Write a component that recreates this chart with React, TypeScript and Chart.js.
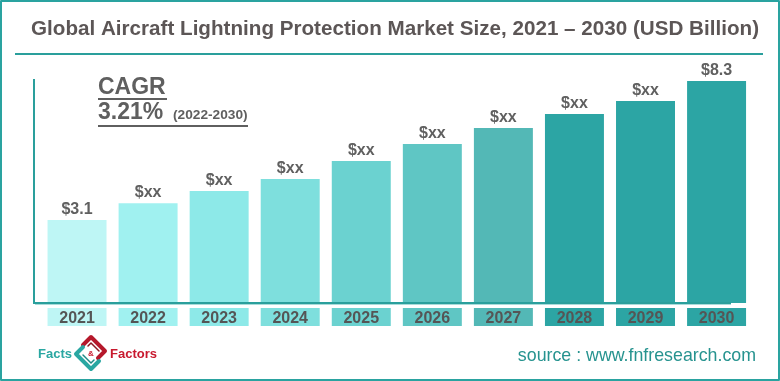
import React, { useEffect, useRef } from "react";
import { Chart, registerables } from "chart.js";

Chart.register(...registerables);

const titleText = "Global Aircraft Lightning Protection Market Size, 2021 – 2030 (USD Billion)";
const years = ["2021", "2022", "2023", "2024", "2025", "2026", "2027", "2028", "2029", "2030"];
const values = [3.1, 3.73, 4.19, 4.64, 5.31, 5.94, 6.54, 7.07, 7.55, 8.3];
const valueLabels = ["$3.1", "$xx", "$xx", "$xx", "$xx", "$xx", "$xx", "$xx", "$xx", "$8.3"];
const barColors = [
  "#BEF6F5", "#A0F1F0", "#8DE9E8", "#7EDFDD", "#6BD2D0",
  "#5FC6C4", "#53B8B6", "#2CA5A4", "#2CA5A4", "#2CA5A4",
];
const cagrLabel = "CAGR";
const cagrValue = "3.21%";
const cagrPeriod = "(2022-2030)";
const sourceText = "source : www.fnfresearch.com";
const yMax = 9;

const FONT = "'Liberation Sans', Arial, sans-serif";
const TEAL = "#2A9F9C";

const decorPlugin = {
  id: "decor",
  beforeDraw(chart: any) {
    const ctx = chart.ctx;
    ctx.save();
    ctx.fillStyle = "#ffffff";
    ctx.fillRect(0, 0, chart.width, chart.height);
    ctx.restore();
  },
  afterDatasetsDraw(chart: any) {
    const ctx: CanvasRenderingContext2D = chart.ctx;
    const meta = chart.getDatasetMeta(0);
    ctx.save();

    // title (stretched horizontally to the reference width)
    ctx.save();
    ctx.fillStyle = "#5C5656";
    ctx.font = `bold 19.5px ${FONT}`;
    ctx.textAlign = "center";
    ctx.textBaseline = "alphabetic";
    const tw = ctx.measureText(titleText).width;
    const sx = 728 / tw;
    ctx.translate(395, 35);
    ctx.scale(sx, 1);
    ctx.fillText(titleText, 0, 0);
    ctx.restore();
    ctx.fillStyle = TEAL;
    ctx.fillRect(15, 53, 748, 2);

    // axes lines
    ctx.fillStyle = TEAL;
    ctx.fillRect(33, 79, 2, 225);
    ctx.fillRect(33, 302, 698, 2);
    ctx.fillStyle = "#A8DCDA";
    ctx.fillRect(35, 304, 696, 1);

    // value labels and year boxes
    meta.data.forEach((bar: any, i: number) => {
      const x = bar.x;
      const w = bar.width;
      ctx.fillStyle = "#606060";
      ctx.font = `bold 16px ${FONT}`;
      ctx.textAlign = "center";
      ctx.textBaseline = "alphabetic";
      ctx.fillText(valueLabels[i], x, bar.y - 6);

      ctx.fillStyle = barColors[i];
      ctx.fillRect(x - w / 2, 308, w, 18);
      ctx.fillStyle = "#555555";
      ctx.font = `bold 16px ${FONT}`;
      ctx.fillText(years[i], x, 323);
    });

    // CAGR block
    ctx.fillStyle = "#5F5F5F";
    ctx.textAlign = "left";
    ctx.font = `bold 23px ${FONT}`;
    ctx.fillText(cagrLabel, 98, 94);
    ctx.fillRect(98, 98, 69, 2);
    ctx.font = `bold 23px ${FONT}`;
    ctx.fillText(cagrValue, 98, 119);
    ctx.font = `bold 13.7px ${FONT}`;
    ctx.fillText(cagrPeriod, 173, 119);
    ctx.fillRect(98, 125, 150, 2);

    // source
    ctx.fillStyle = "#26938F";
    ctx.font = `17.8px ${FONT}`;
    ctx.textAlign = "right";
    ctx.fillText(sourceText, 756, 361);

    // logo
    ctx.textAlign = "left";
    ctx.font = `bold 13px ${FONT}`;
    ctx.fillStyle = "#2AA7A2";
    ctx.fillText("Facts", 38, 358);
    ctx.fillStyle = "#C8192E";
    ctx.fillText("Factors", 110, 358);
    ctx.lineJoin = "round";
    ctx.lineCap = "round";
    ctx.lineWidth = 4;
    ctx.strokeStyle = "#B5182B";
    ctx.beginPath();
    ctx.moveTo(83, 345);
    ctx.lineTo(91, 337);
    ctx.lineTo(105, 351);
    ctx.lineTo(98, 358);
    ctx.stroke();
    ctx.lineWidth = 1.5;
    ctx.strokeStyle = "#8C1520";
    ctx.beginPath();
    ctx.moveTo(88, 346);
    ctx.lineTo(91, 343);
    ctx.lineTo(99, 351);
    ctx.stroke();
    ctx.lineWidth = 4;
    ctx.strokeStyle = "#2AA7A2";
    ctx.beginPath();
    ctx.moveTo(99, 361);
    ctx.lineTo(91, 369);
    ctx.lineTo(76, 354);
    ctx.lineTo(83, 347);
    ctx.stroke();
    ctx.lineWidth = 1.5;
    ctx.strokeStyle = "#1E8A86";
    ctx.beginPath();
    ctx.moveTo(94, 360);
    ctx.lineTo(91, 363);
    ctx.lineTo(83, 355);
    ctx.stroke();
    ctx.fillStyle = "#C8192E";
    ctx.font = `bold 8px ${FONT}`;
    ctx.textAlign = "center";
    ctx.fillText("&", 91, 356);

    // outer border
    ctx.strokeStyle = "#2AA3A0";
    ctx.lineWidth = 2;
    ctx.strokeRect(1, 1, 778, 379);

    ctx.restore();
  },
};

export default function App() {
  const canvasRef = useRef<HTMLCanvasElement | null>(null);

  useEffect(() => {
    const canvas = canvasRef.current;
    if (!canvas) return;
    const chart = new Chart(canvas, {
      type: "bar",
      data: {
        labels: years,
        datasets: [
          {
            data: values,
            backgroundColor: barColors,
            borderWidth: 0,
            barPercentage: 0.83,
            categoryPercentage: 1.0,
          },
        ],
      },
      options: {
        responsive: false,
        animation: false,
        devicePixelRatio: 1,
        layout: { padding: { left: 41.5, right: 27.9, top: 62.25, bottom: 78 } },
        plugins: {
          legend: { display: false },
          tooltip: { enabled: false },
          title: { display: false },
        },
        scales: {
          x: { display: false, offset: true, grid: { display: false } },
          y: { display: false, min: 0, max: yMax },
        },
      },
      plugins: [decorPlugin],
    });
    return () => chart.destroy();
  }, []);

  return (
    <div style={{ position: "fixed", left: 0, top: 0, width: 780, height: 381, background: "#fff" }}>
      <canvas ref={canvasRef} width={780} height={381} style={{ display: "block", width: 780, height: 381 }} />
    </div>
  );
}
